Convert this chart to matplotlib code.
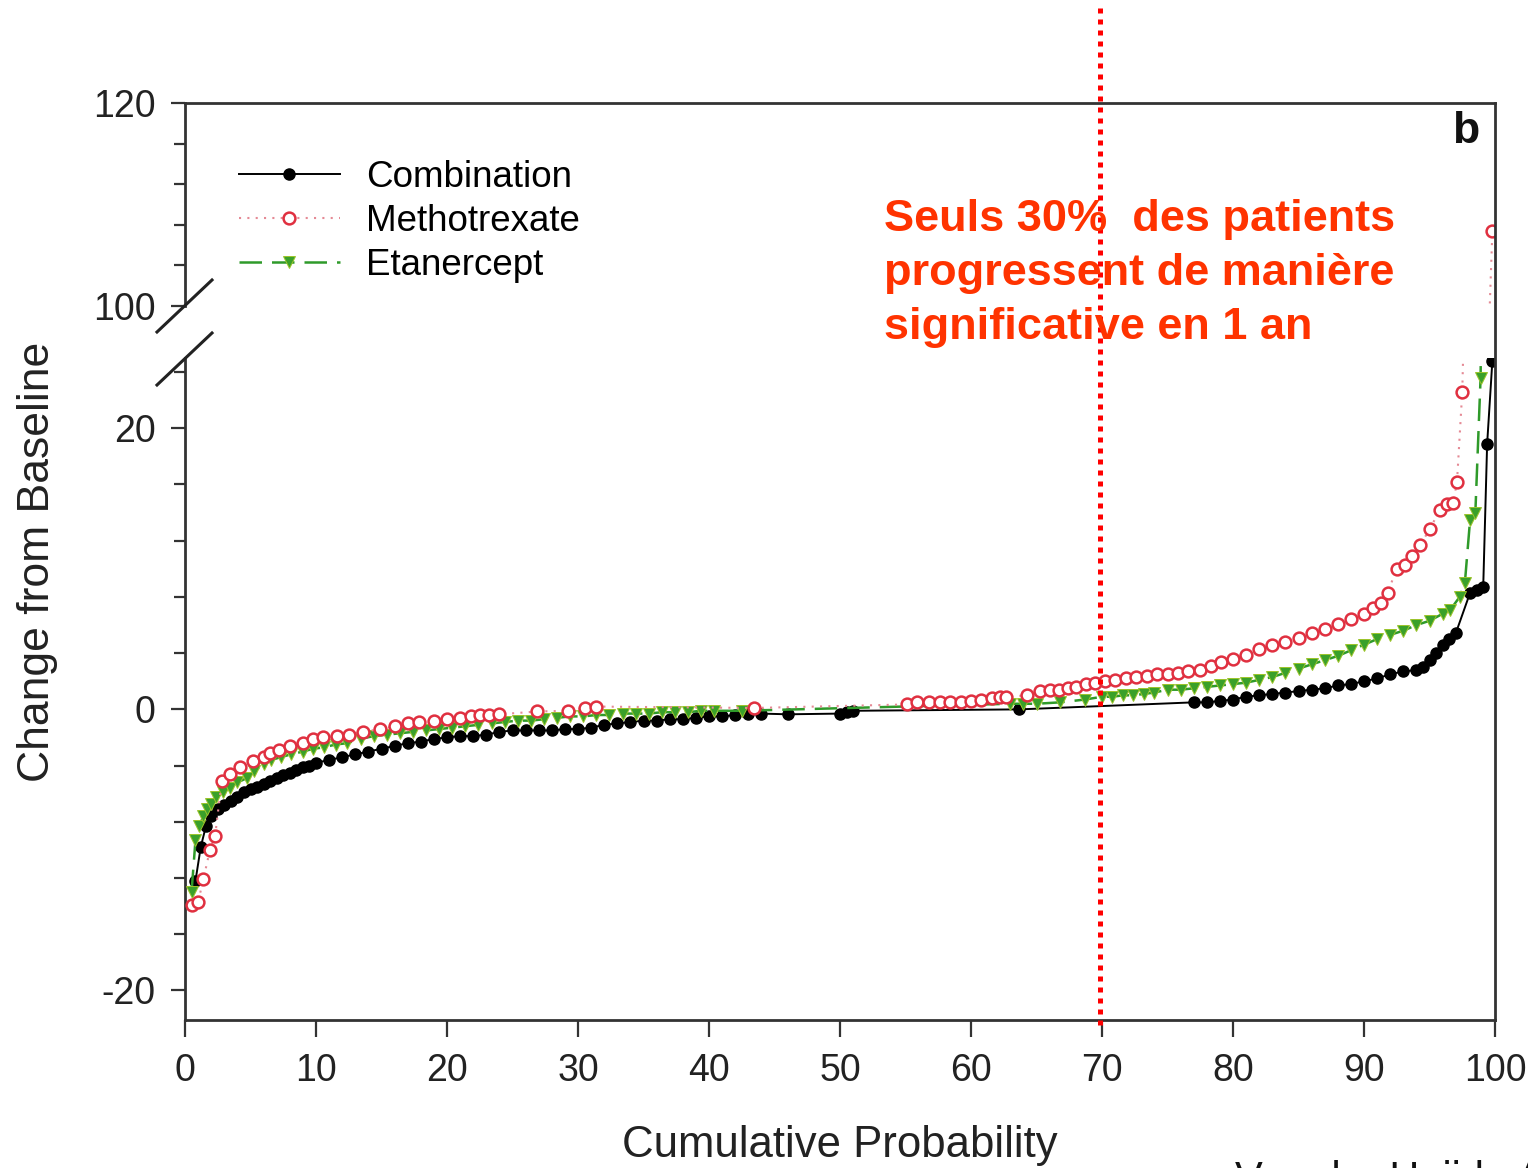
import matplotlib
matplotlib.use('Agg')
import matplotlib.pyplot as plt
from matplotlib.lines import Line2D

plt.rcParams['font.family'] = ['Liberation Sans', 'DejaVu Sans']
plt.rcParams['axes.unicode_minus'] = False

# cumulative probability (%) / change from baseline
comb_x = [0.8, 1.2, 1.6, 2.0, 2.5, 3.0, 3.5, 4.0, 4.5, 5.0, 5.5, 6.0, 6.5, 7.0, 7.5, 8.0, 8.5, 9.0, 9.5, 10,
          11, 12, 13, 14, 15, 16, 17, 18, 19, 20, 21, 22, 23, 24, 25, 26, 27, 28, 29, 30, 31, 32, 33, 34, 35,
          36, 37, 38, 39, 40, 41, 42, 43, 44, 46.0, 50.0, 50.5, 51.0, 63.7, 77, 78, 79, 80, 81, 82, 83, 84,
          85, 86, 87, 88, 89, 90, 91, 92, 93, 94, 94.5, 95, 95.5, 96, 96.5, 97, 98.1, 98.6, 99.1, 99.4, 99.8]
comb_y = [-12.2, -9.8, -8.3, -7.6, -7.1, -6.8, -6.5, -6.2, -5.9, -5.7, -5.5, -5.3, -5.1, -4.9, -4.7, -4.5,
          -4.3, -4.1, -4.0, -3.8, -3.6, -3.4, -3.2, -3.0, -2.8, -2.6, -2.4, -2.3, -2.1, -2.0, -1.9, -1.9,
          -1.8, -1.6, -1.5, -1.5, -1.5, -1.5, -1.4, -1.4, -1.3, -1.1, -1.0, -0.9, -0.8, -0.8, -0.7, -0.7,
          -0.6, -0.5, -0.5, -0.4, -0.3, -0.3, -0.35, -0.3, -0.2, -0.1, 0.0, 0.5, 0.5, 0.6, 0.7, 0.9, 1.0,
          1.1, 1.2, 1.3, 1.4, 1.5, 1.7, 1.8, 2.0, 2.2, 2.5, 2.7, 2.8, 3.0, 3.5, 4.0, 4.6, 5.0, 5.4, 8.3,
          8.5, 8.7, 18.9, 24.8]

mtx_x = [0.5, 1.0, 1.4, 1.9, 2.3, 2.8, 3.4, 4.2, 5.2, 6.0, 6.5, 7.2, 8.0, 9.0, 9.8, 10.5, 11.6, 12.5, 13.6,
         14.9, 16, 17, 17.9, 19, 20, 21, 21.8, 22.5, 23.2, 24.0, 26.9, 29.2, 30.5, 31.4, 43.4, 55.1, 55.9,
         56.8, 57.6, 58.4, 59.2, 60, 60.8, 61.6, 62.2, 62.7, 64.3, 65.3, 66, 66.7, 67.4, 68, 68.8, 69.5,
         70.2, 71, 71.8, 72.6, 73.4, 74.2, 75, 75.8, 76.6, 77.5, 78.3, 79.1, 80, 81, 82, 83, 84, 85, 86,
         87, 88, 89, 90, 90.7, 91.3, 91.8, 92.5, 93.1, 93.7, 94.3, 95, 95.8, 96.3, 96.8, 97.1, 97.5, 99.8]
mtx_y = [-13.9, -13.7, -12.1, -10.0, -9.0, -5.1, -4.6, -4.1, -3.7, -3.4, -3.1, -2.9, -2.6, -2.4, -2.1,
         -2.0, -1.9, -1.8, -1.6, -1.4, -1.2, -1.0, -0.9, -0.8, -0.7, -0.6, -0.5, -0.4, -0.4, -0.35,
         -0.15, -0.1, 0.1, 0.2, 0.1, 0.35, 0.5, 0.5, 0.5, 0.5, 0.55, 0.6, 0.7, 0.8, 0.9, 0.9, 1.0, 1.3,
         1.4, 1.4, 1.5, 1.6, 1.8, 1.9, 2.0, 2.1, 2.2, 2.3, 2.4, 2.5, 2.5, 2.6, 2.7, 2.8, 3.1, 3.4, 3.6,
         3.9, 4.3, 4.6, 4.8, 5.1, 5.4, 5.7, 6.1, 6.4, 6.8, 7.2, 7.6, 8.3, 10.0, 10.3, 10.9, 11.7, 12.8,
         14.2, 14.6, 14.7, 16.2, 22.6, 107.4]

etn_x = [0.5, 0.8, 1.1, 1.4, 1.7, 2.0, 2.4, 2.9, 3.4, 4.0, 4.7, 5.3, 6.0, 6.6, 7.3, 8.1, 9.0, 9.8, 10.6,
         11.5, 12.4, 13.4, 14.4, 15.4, 16.4, 17.4, 18.4, 19.4, 20.4, 21.4, 22.4, 23.4, 24.4, 25.4, 26.4,
         27.4, 28.4, 29.4, 30.4, 31.4, 32.4, 33.4, 34.4, 35.4, 36.4, 37.4, 38.4, 39.4, 40.4, 42.5, 63.0,
         64.0, 65.0, 66.8, 68.7, 70.0, 70.8, 71.6, 72.4, 73.2, 74, 75, 76, 77, 78, 79, 80, 81, 82, 83, 84,
         85, 86, 87, 88, 89, 90, 91, 92, 93, 94, 95, 96, 96.6, 97.3, 97.7, 98.1, 98.5, 98.9, 99.3]
etn_y = [-13.0, -9.3, -8.3, -7.6, -7.1, -6.7, -6.2, -5.9, -5.6, -5.2, -4.9, -4.4, -3.9, -3.6, -3.4, -3.2,
         -3.0, -2.8, -2.7, -2.5, -2.4, -2.1, -1.9, -1.8, -1.7, -1.6, -1.5, -1.4, -1.3, -1.2, -1.1, -1.0,
         -0.9, -0.8, -0.8, -0.7, -0.6, -0.5, -0.5, -0.4, -0.4, -0.3, -0.3, -0.3, -0.2, -0.2, -0.2, -0.1,
         -0.1, -0.1, 0.4, 0.4, 0.4, 0.5, 0.7, 0.9, 0.9, 1.0, 1.0, 1.1, 1.2, 1.4, 1.4, 1.5, 1.6, 1.7, 1.8,
         1.9, 2.1, 2.3, 2.6, 2.9, 3.2, 3.5, 3.8, 4.2, 4.6, 5.0, 5.3, 5.6, 6.0, 6.3, 6.8, 7.1, 8.0, 9.0,
         13.5, 14.0, 23.6, 60.0]

x_ticks = [0, 10, 20, 30, 40, 50, 60, 70, 80, 90, 100]

W, H = 1528, 1168
fig = plt.figure(figsize=(W / 100, H / 100), dpi=100)

def fx(px):
    return px / W

def fy(py):
    return 1 - py / H

left, right = 185, 1495
ax_top = fig.add_axes([fx(left), fy(306), fx(right - left), (306 - 103) / H])
ax_bot = fig.add_axes([fx(left), fy(1020), fx(right - left), (1020 - 358) / H])

spine_c = '#333333'
tick_fs = 27

for ax in (ax_top, ax_bot):
    # Combination, then Etanercept, then Methotrexate on top
    ax.plot(comb_x, comb_y, '-', color='black', lw=1.4, marker='o', ms=8,
            mfc='black', mec='black', label='Combination', zorder=3)
    ax.plot(etn_x, etn_y, color='#2f9a2a', lw=1.8, ls=(0, (9, 4)), marker='v', ms=8,
            mfc='#3aa02a', mec='#9cc42a', mew=0.7, label='Etanercept', zorder=4)
    ax.plot(mtx_x, mtx_y, color='#e58a95', lw=1.5, ls=(0, (1, 3)), marker='o', ms=8.5,
            mfc='white', mec='#e03040', mew=1.8, label='Methotrexate', zorder=5)
    ax.set_xlim(0, 100)
    ax.spines['right'].set_visible(False)
    for s in ax.spines.values():
        s.set_color(spine_c)
        s.set_linewidth(2)
    ax.tick_params(axis='both', direction='out', length=10, width=1.6, color=spine_c,
                   labelsize=tick_fs, labelcolor='#222222', pad=11)
    ax.tick_params(axis='y', which='minor', direction='out', length=8, width=1.6, color=spine_c)

ax_top.set_ylim(100, 120)
ax_top.set_yticks([100, 120])
ax_top.set_yticks([104, 108, 112, 116], minor=True)
ax_top.spines['bottom'].set_visible(False)
ax_top.tick_params(axis='x', bottom=False, labelbottom=False)

ax_bot.set_ylim(-22.1, 25)
ax_bot.set_yticks([-20, 0, 20])
ax_bot.set_yticks([-16, -12, -8, -4, 4, 8, 12, 16, 24], minor=True)
ax_bot.spines['top'].set_visible(False)
ax_bot.set_xticks(x_ticks)
ax_bot.tick_params(axis='x', length=12, pad=12)

# continuous right frame
fig.add_artist(Line2D([fx(right), fx(right)], [fy(103), fy(1020)], color=spine_c, lw=2))

# break marks on the y axis
for dy in (0, 53):
    fig.add_artist(Line2D([fx(157), fx(212)], [fy(332 + dy), fy(280 + dy)],
                          color='#222222', lw=2.2))

# legend order as in the figure
h, l = ax_top.get_legend_handles_labels()
order = [0, 2, 1]
ax_top.legend([h[i] for i in order], [l[i] for i in order], loc='upper left',
              bbox_to_anchor=(fx(224), fy(145)), bbox_transform=fig.transFigure,
              frameon=False, fontsize=26.5, handlelength=2.75, handletextpad=0.7,
              labelspacing=0.25, numpoints=1, borderaxespad=0)

ax_top.text(0.988, 0.86, 'b', transform=ax_top.transAxes, fontsize=32,
            fontweight='bold', ha='right', va='center', color='#111111')

fig.text(fx(840), fy(1146), 'Cumulative Probability', fontsize=31.5, ha='center',
         va='center', color='#222222')
fig.text(fx(38), fy(562), 'Change from Baseline', fontsize=32, rotation=90,
         ha='center', va='center', color='#222222')

# annotation overlay
fig.text(fx(884), fy(199),
         'Seuls 30%  des patients\nprogressent de manière\nsignificative en 1 an',
         fontsize=32.5, fontweight='bold', color='#ff3300', ha='left', va='top',
         linespacing=1.41)
fig.add_artist(Line2D([fx(1100), fx(1100)], [fy(8), fy(1030)], color='#ff0000',
                      lw=3.6, ls=(0, (1, 1.2))))

fig.text(fx(1235), fy(1160), 'Van der Heijde A', fontsize=30, ha='left', va='top',
         color='#111111')

fig.savefig('out.png', dpi=100)
